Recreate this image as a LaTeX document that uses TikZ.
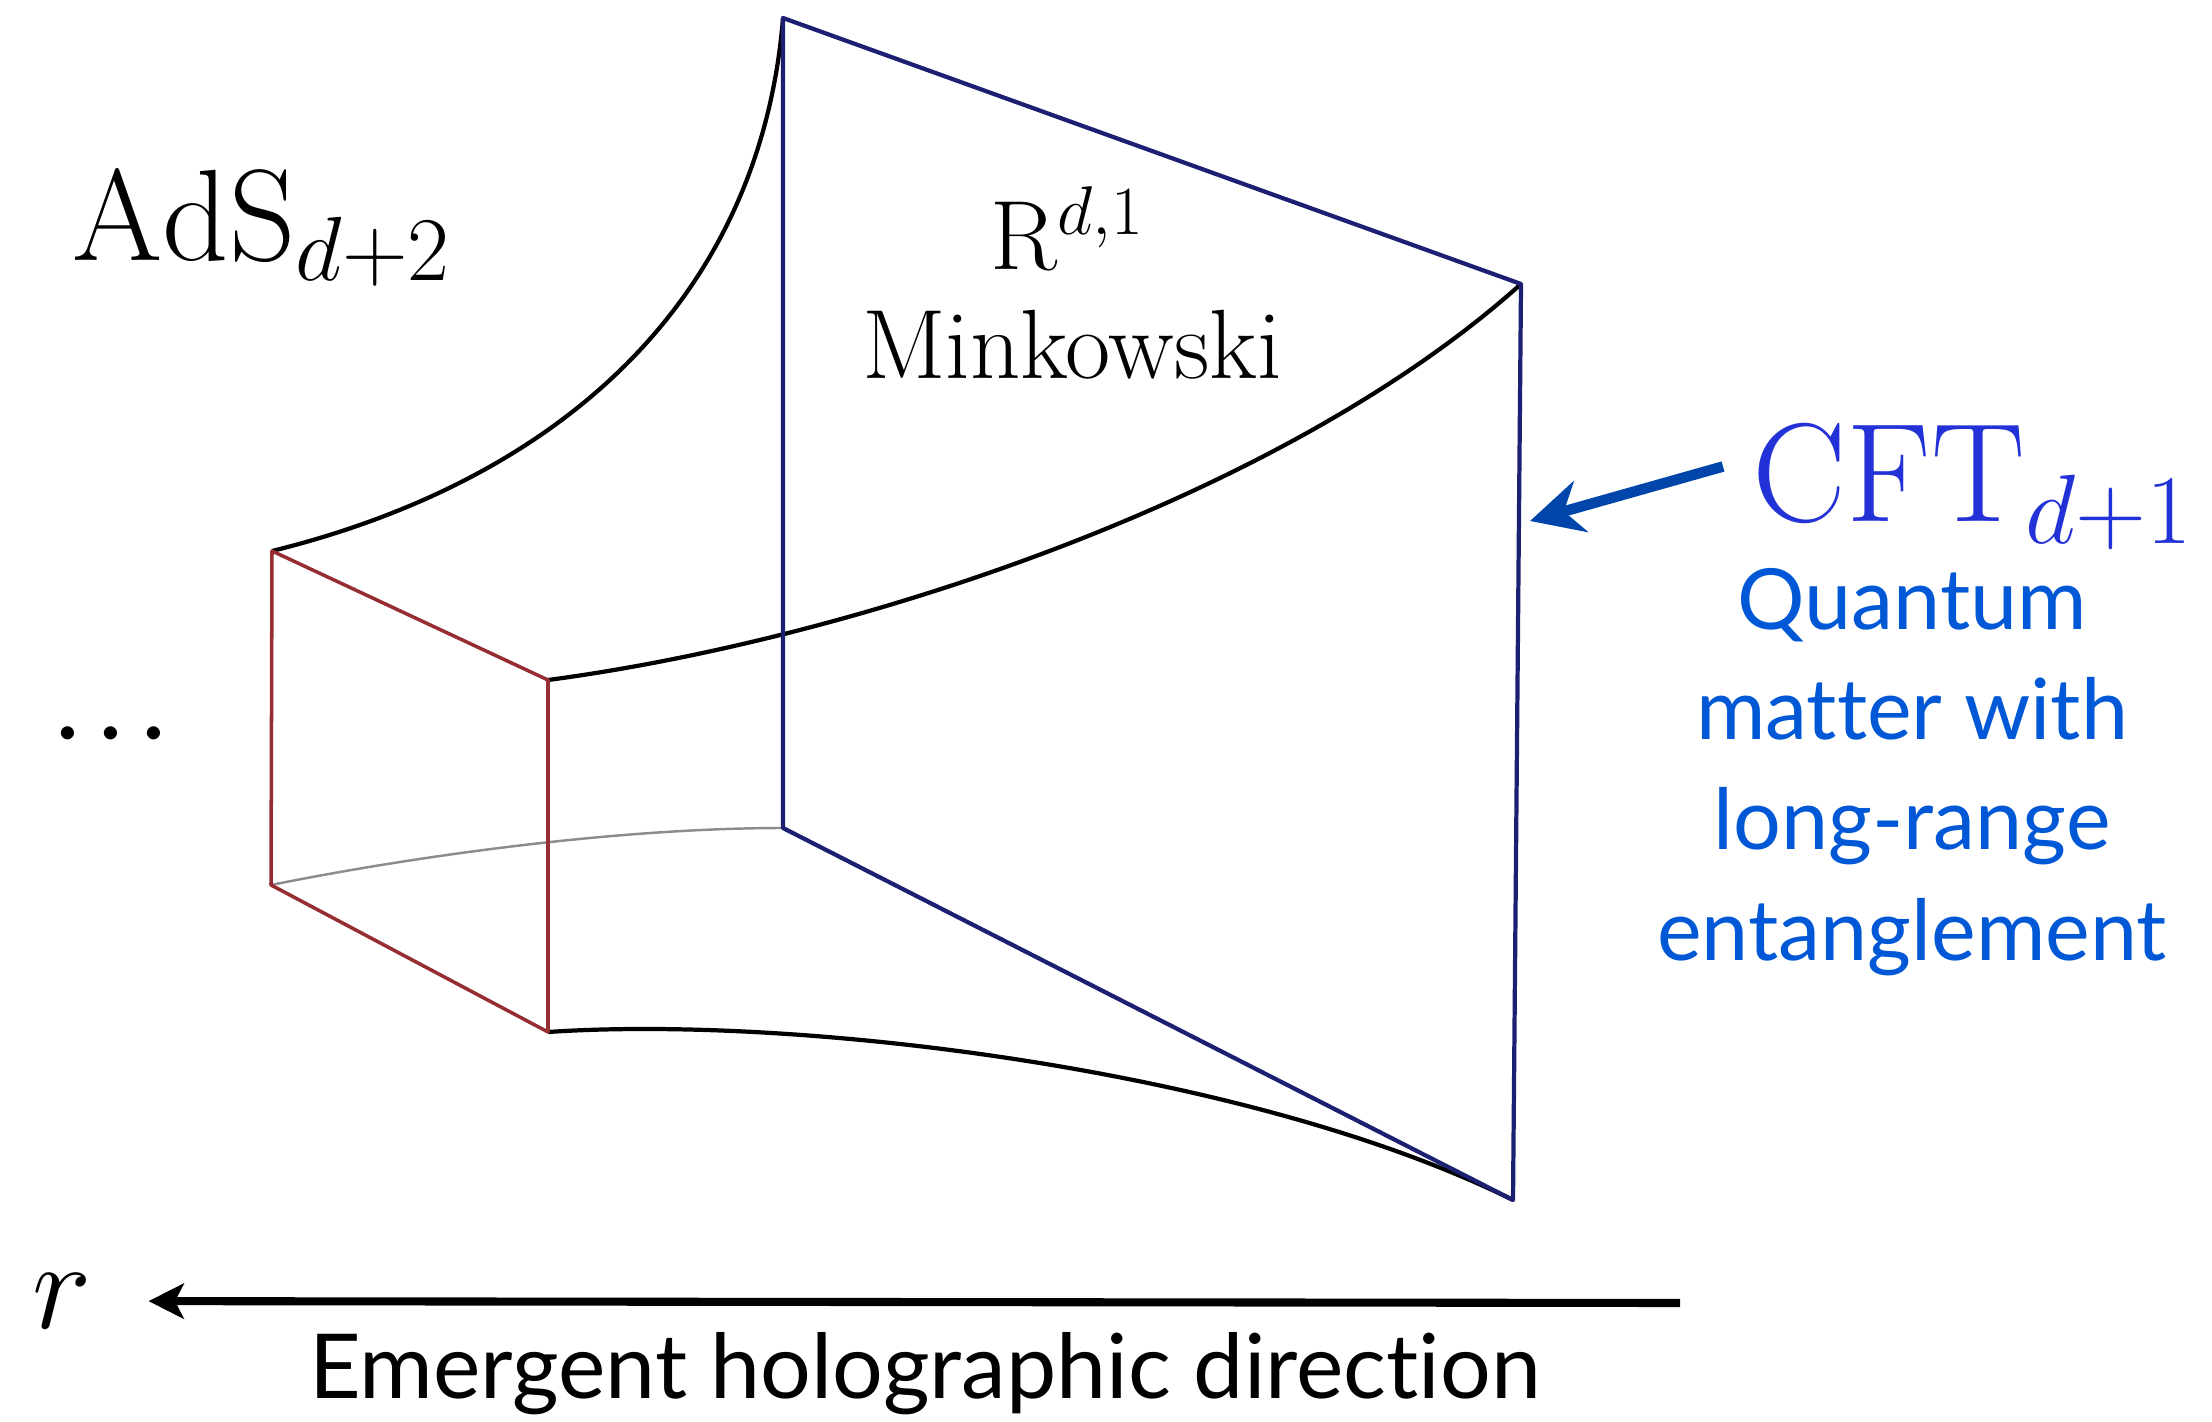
\RequirePackage{fix-cm}
\documentclass[tikz,border=0pt]{standalone}
\usepackage{fontspec}
\newfontfamily\gillsans[Ligatures=NoCommon]{Lato}
\usepackage{tikz}
\usetikzlibrary{positioning, arrows.meta}

\definecolor{facenavy}{RGB}{28,32,115}
\definecolor{facered}{RGB}{150,45,50}
\definecolor{cftblue}{RGB}{35,50,215}
\definecolor{matterblue}{RGB}{0,88,214}
\definecolor{arrowblue}{RGB}{0,70,170}

\begin{document}
\begin{tikzpicture}[
      x=0.01cm, y=-0.01cm,
      bulk/.style = {line width=1.2pt, black},
      hidden/.style = {line width=0.7pt, black!45},
      boundary/.style = {line width=1.2pt, facenavy, line join=round},
      slice/.style = {line width=1pt, facered, line join=round},
      serifbig/.style = {inner sep=0pt, font=\fontsize{37}{43}\selectfont},
      seriflabel/.style = {inner sep=0pt, font=\fontsize{28}{34}\selectfont},
      cftlabel/.style = {inner ysep=0pt, inner xsep=8.2pt, text=cftblue,
                         font=\fontsize{40}{46}\selectfont},
      sanslabel/.style = {inner sep=0pt, align=center,
                          font=\gillsans\fontsize{24}{31.3}\selectfont},
      cftarrow/.style = {-{Stealth[length=15pt, width=15pt, inset=5pt]},
                         line width=3pt, arrowblue},
      axisarrow/.style = {-{Stealth[length=10pt, width=10pt, inset=2.5pt]},
                          line width=2.3pt, black}
    ]
    \useasboundingbox (0,0) rectangle (2212,1422);
    % boundary face (blue)
    \coordinate (bTL) at (783,18);
    \coordinate (bTR) at (1521,284);
    \coordinate (bBR) at (1513,1200);
    \coordinate (bBL) at (783,828);
    % interior slice (red)
    \coordinate (sTL) at (272,551);
    \coordinate (sTR) at (548,680);
    \coordinate (sBR) at (548,1032);
    \coordinate (sBL) at (271,885);

    \draw[hidden] (sBL) .. controls (420,855) and (620,828) .. (bBL);
    \draw[bulk] (sTL) .. controls (560,480) and (760,300) .. (bTL);
    \draw[bulk] (sTR) .. controls (850,640) and (1280,500) .. (bTR);
    \draw[bulk] (sBR) .. controls (800,1015) and (1250,1070) .. (bBR);
    \draw[slice] (sTL) -- (sTR) -- (sBR) -- (sBL) -- cycle;
    \draw[boundary] (bTL) -- (bTR) -- (bBR) -- (bBL) -- cycle;

    % labels
    \node[serifbig, anchor=base west] (ads) at (72,261) {$\mathrm{AdS}_{d+2}$};
    \node[seriflabel, anchor=base] (rd1) at (1068,270) {$\mathrm{R}^{d,1}$};
    \node[seriflabel, anchor=base] (mink) at (1072,379) {Minkowski};
    \node[inner sep=0pt, font=\fontsize{24}{28}\selectfont\boldmath] (dots)
         at (111,735) {$\cdots$};
    \node[cftlabel, anchor=base west] (cft) at (1723,522) {$\mathrm{CFT}_{d+1}$};
    \node[sanslabel, text=matterblue, anchor=north] (matter) at (1912,568)
         {Quantum\\matter with\\long-range\\entanglement};
    \coordinate (cftTip) at (1530,521);
    \draw[cftarrow] ([yshift=0.2cm]cft.west) -- (cftTip);

    % holographic direction
    \node[inner sep=0pt, font=\fontsize{36}{40}\selectfont] (rvar) at (62,1301) {$r$};
    \coordinate (axisStart) at (1680,1303);
    \draw[axisarrow, shorten >=16pt] (axisStart) -- (rvar);
    \node[sanslabel, font=\gillsans\fontsize{25.5}{31}\selectfont, anchor=base]
         (direction) at (925,1398) {Emergent holographic direction};
  \end{tikzpicture}
\end{document}
